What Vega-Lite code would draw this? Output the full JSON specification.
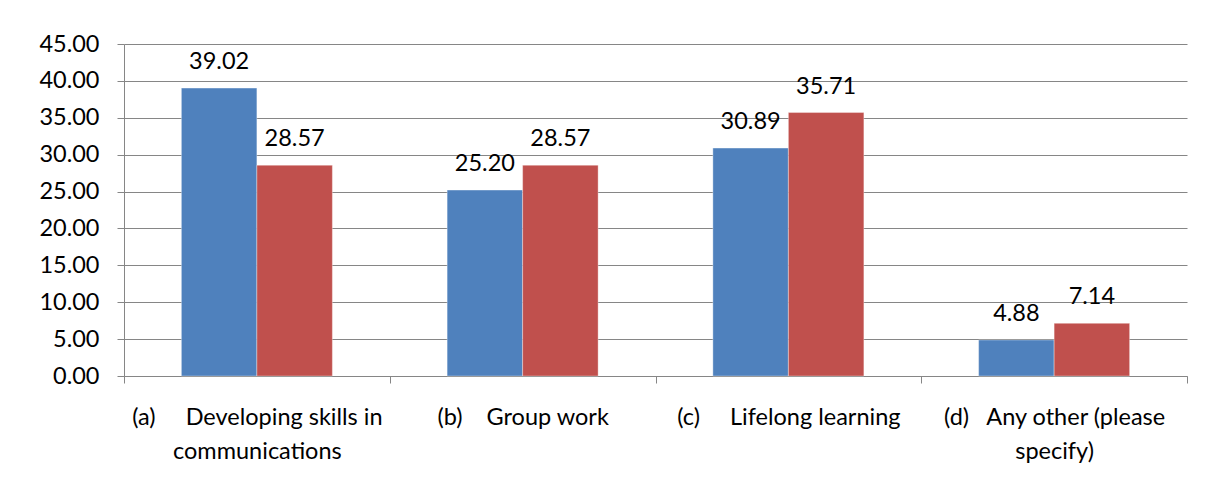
{
  "$schema": "https://vega.github.io/schema/vega-lite/v6.json",
  "autosize": "none",
  "width": 1063,
  "height": 332,
  "padding": {"left": 124, "top": 44, "right": 21, "bottom": 109},
  "background": "white",
  "data": {
    "values": [
      {"category": "(a)\u00a0\u00a0\u00a0\u00a0\u00a0Developing skills in|communications", "series": "Series 1", "value": 39.02},
      {"category": "(a)\u00a0\u00a0\u00a0\u00a0\u00a0Developing skills in|communications", "series": "Series 2", "value": 28.57},
      {"category": "(b)\u00a0\u00a0\u00a0\u00a0Group work", "series": "Series 1", "value": 25.20},
      {"category": "(b)\u00a0\u00a0\u00a0\u00a0Group work", "series": "Series 2", "value": 28.57},
      {"category": "(c)\u00a0\u00a0\u00a0\u00a0\u00a0Lifelong learning", "series": "Series 1", "value": 30.89},
      {"category": "(c)\u00a0\u00a0\u00a0\u00a0\u00a0Lifelong learning", "series": "Series 2", "value": 35.71},
      {"category": "(d)\u00a0\u00a0\u00a0Any other (please|specify)", "series": "Series 1", "value": 4.88},
      {"category": "(d)\u00a0\u00a0\u00a0Any other (please|specify)", "series": "Series 2", "value": 7.14}
    ]
  },
  "encoding": {
    "x": {
      "field": "category",
      "type": "nominal",
      "sort": null,
      "scale": {"paddingInner": 0, "paddingOuter": 0},
      "axis": {
        "title": null,
        "labelAngle": 0,
        "labelExpr": "split(datum.label, '|')",
        "labelLineHeight": 34,
        "labelFont": "Lato",
        "labelFontSize": 23.5,
        "labelColor": "black",
        "labelPadding": 22,
        "labelLimit": 400,
        "tickBand": "extent",
        "tickSize": 7,
        "tickColor": "#868686",
        "domainColor": "#868686",
        "grid": false
      }
    },
    "xOffset": {
      "field": "series",
      "type": "nominal",
      "scale": {"paddingInner": 0, "paddingOuter": 0.76}
    },
    "y": {
      "field": "value",
      "type": "quantitative",
      "scale": {"domain": [0, 45], "nice": false},
      "axis": {
        "title": null,
        "values": [0, 5, 10, 15, 20, 25, 30, 35, 40, 45],
        "format": ".2f",
        "labelFont": "Lato",
        "labelFontSize": 23.5,
        "labelColor": "black",
        "labelPadding": 18,
        "tickSize": 7,
        "tickColor": "#868686",
        "domainColor": "#868686",
        "gridColor": "#868686",
        "gridWidth": 1
      }
    }
  },
  "layer": [
    {
      "mark": {"type": "bar", "stroke": "white", "strokeOpacity": 0.35, "strokeWidth": 1},
      "encoding": {
        "color": {
          "field": "series",
          "type": "nominal",
          "scale": {"range": ["#4F81BD", "#C0504D"]},
          "legend": null
        }
      }
    },
    {
      "mark": {"type": "text", "font": "Lato", "fontSize": 23.5, "color": "black", "baseline": "middle", "dy": -26},
      "encoding": {
        "text": {"field": "value", "type": "quantitative", "format": ".2f"}
      }
    }
  ],
  "config": {
    "view": {"stroke": null}
  }
}
